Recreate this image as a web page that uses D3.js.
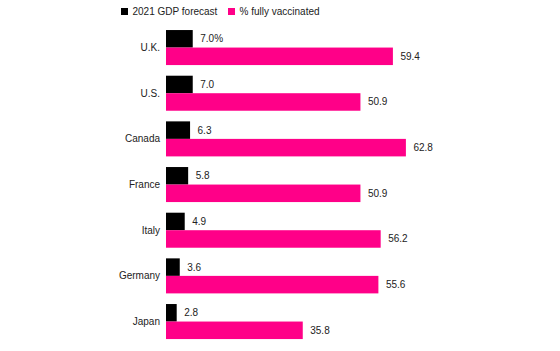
<!DOCTYPE html>
<html>
<head>
<meta charset="utf-8">
<script src="https://cdn.jsdelivr.net/npm/d3@7"></script>
<style>
  html, body { margin: 0; padding: 0; background: #fff; }
  svg text { font-family: "Liberation Sans", Arial, sans-serif; fill: #222; }
</style>
</head>
<body>
<svg id="chart" width="560" height="351"></svg>
<script>
/* ---------- data ---------- */
const countries = ["U.K.", "U.S.", "Canada", "France", "Italy", "Germany", "Japan"];
const gdpForecast = [7.0, 7.0, 6.3, 5.8, 4.9, 3.6, 2.8];
const vaccinated = [59.4, 50.9, 62.8, 50.9, 56.2, 55.6, 35.8];
const seriesNames = ["2021 GDP forecast", "% fully vaccinated"];
const seriesColors = ["#000000", "#ff0088"];

/* ---------- layout ---------- */
const svg = d3.select("#chart");
const fontSize = 10;

const x = d3.scaleLinear().domain([0, 70]).range([166, 166 + 70 * 3.82]);
const y = d3.scaleBand().domain(countries)
  .range([24.7, 344.4]).paddingInner(0.233).paddingOuter(0.117);
const sub = d3.scaleBand().domain([0, 1]).range([0, y.bandwidth()]);

/* ---------- legend ---------- */
const legendX = [121, 228];
seriesNames.forEach((name, i) => {
  const lg = svg.append("g").attr("transform", `translate(${legendX[i]},8)`);
  lg.append("rect").attr("width", 7).attr("height", 7).attr("fill", seriesColors[i]);
  lg.append("text").attr("x", 11.5).attr("y", 3.5).attr("dy", "0.35em")
    .style("font-size", fontSize + "px").text(name);
});

/* ---------- bars ---------- */
const rows = svg.append("g").selectAll("g").data(countries).join("g")
  .attr("transform", d => `translate(0,${y(d)})`);

rows.append("text")
  .attr("x", 160).attr("y", y.bandwidth() / 2).attr("dy", "0.35em")
  .attr("text-anchor", "end").style("font-size", fontSize + "px")
  .text(d => d);

[gdpForecast, vaccinated].forEach((vals, si) => {
  rows.append("rect")
    .attr("x", x(0)).attr("y", sub(si))
    .attr("width", (d, i) => x(vals[i]) - x(0))
    .attr("height", sub.bandwidth())
    .attr("fill", seriesColors[si]);

  rows.append("text")
    .attr("x", (d, i) => x(vals[i]) + 7.5)
    .attr("y", sub(si) + sub.bandwidth() / 2).attr("dy", "0.35em")
    .style("font-size", fontSize + "px")
    .text((d, i) => vals[i].toFixed(1) + (si === 0 && i === 0 ? "%" : ""));
});
</script>
</body>
</html>
